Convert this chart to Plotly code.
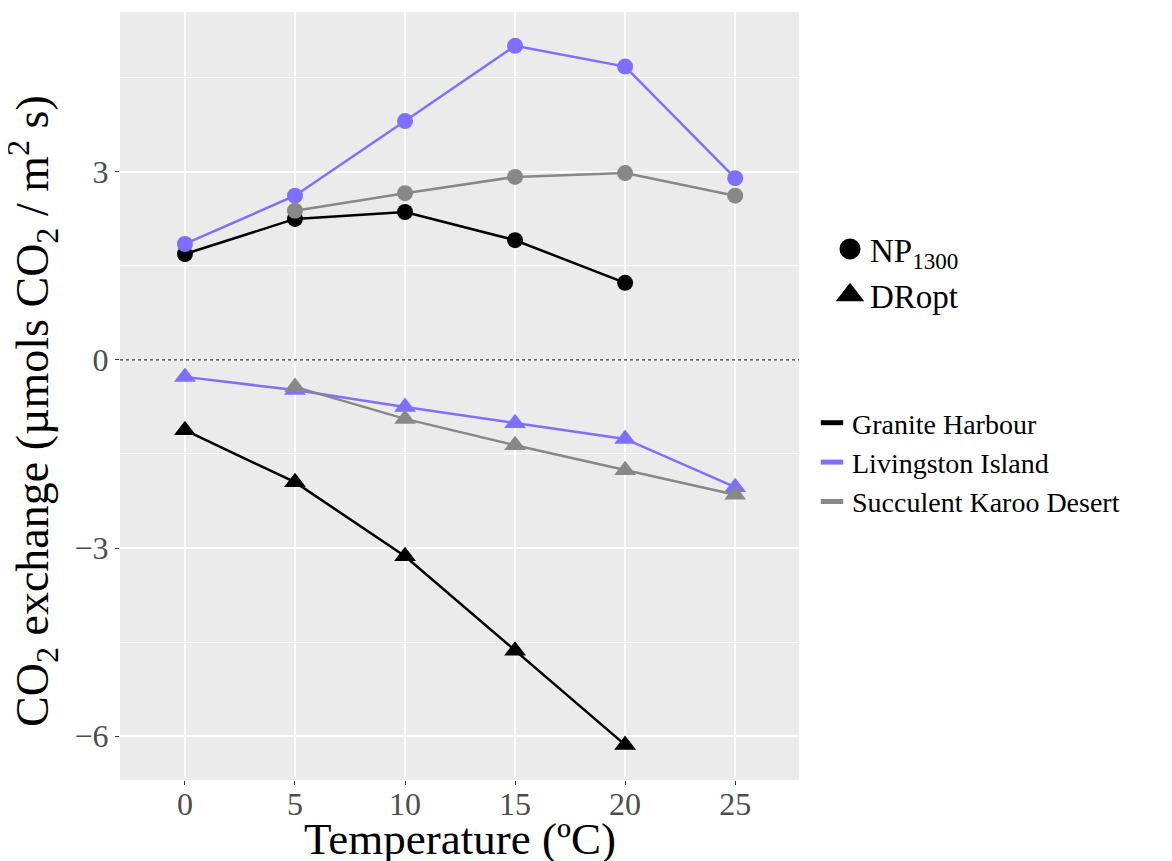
import plotly.graph_objects as go

# Data
sites = ["Granite Harbour", "Livingston Island", "Succulent Karoo Desert"]
colors = {"Granite Harbour": "#000000", "Livingston Island": "#7f6fff", "Succulent Karoo Desert": "#888888"}

temp_granite = [0, 5, 10, 15, 20]
temp_livingston = [0, 5, 10, 15, 20, 25]
temp_succulent = [5, 10, 15, 20, 25]

np_granite = [1.69, 2.25, 2.36, 1.91, 1.23]
np_livingston = [1.85, 2.62, 3.81, 5.01, 4.68, 2.90]
np_succulent = [2.38, 2.66, 2.92, 2.98, 2.62]

dr_granite = [-1.12, -1.95, -3.13, -4.64, -6.14]
dr_livingston = [-0.27, -0.48, -0.75, -1.01, -1.26, -2.03]
dr_succulent = [-0.43, -0.94, -1.36, -1.76, -2.15]

x_ticks = [0, 5, 10, 15, 20, 25]
y_ticks = [-6, -3, 0, 3]
y_minor = [-4.5, -1.5, 1.5, 4.5]

x_title = "Temperature (ºC)"
y_title = "CO<sub>2</sub> exchange (µmols CO<sub>2</sub> / m<sup>2</sup> s)"

series = [
    ("Granite Harbour", temp_granite, np_granite, dr_granite),
    ("Livingston Island", temp_livingston, np_livingston, dr_livingston),
    ("Succulent Karoo Desert", temp_succulent, np_succulent, dr_succulent),
]

FONT = "Liberation Serif, Times New Roman, serif"

fig = go.Figure()

for name, t, npv, drv in series:
    fig.add_trace(go.Scatter(
        x=t, y=npv, mode="lines+markers", showlegend=False,
        line=dict(color=colors[name], width=2.5),
        marker=dict(symbol="circle", size=16, color=colors[name]),
    ))
for name, t, npv, drv in series:
    fig.add_trace(go.Scatter(
        x=t, y=drv, mode="lines+markers", showlegend=False,
        line=dict(color=colors[name], width=2.5),
        marker=dict(symbol="triangle-up", size=19, color=colors[name]),
    ))

# shape legend
fig.add_trace(go.Scatter(x=[None], y=[None], mode="markers", name="NP<sub>1300</sub>",
                         marker=dict(symbol="circle", size=16, color="black",
                                     line=dict(color="black", width=5)), legend="legend"))
fig.add_trace(go.Scatter(x=[None], y=[None], mode="markers", name="DRopt",
                         marker=dict(symbol="triangle-up", size=16, color="black",
                                     line=dict(color="black", width=5)), legend="legend"))
# site legend
for name in sites:
    fig.add_trace(go.Scatter(x=[None], y=[None], mode="markers", name=name,
                             marker=dict(symbol="line-ew", size=16, color=colors[name],
                                         line=dict(color=colors[name], width=5)),
                             legend="legend2"))

# dotted zero line
fig.add_shape(type="line", xref="x domain", yref="y", x0=0, x1=1, y0=0, y1=0,
              line=dict(color="#333333", width=1.2, dash="dot"), layer="above")

# page has an 8px body margin, so figure is 8px smaller and margins shifted
W, H = 1164, 853
L, T = 112, 4
PW, PH = 679, 768
R = W - L - PW
B = H - T - PH

def lx(px):  # page px -> paper x
    return (px - 8 - L) / PW

def ly(py):  # page px -> paper y
    return 1 - (py - 8 - T) / PH

fig.add_annotation(text=x_title, xref="paper", yref="paper", x=0.5, y=ly(839),
                   xanchor="center", yanchor="middle", showarrow=False,
                   font=dict(size=45, family=FONT, color="black"))
fig.add_annotation(text=y_title, xref="paper", yref="paper", x=lx(32), y=ly(411),
                   xanchor="center", yanchor="middle", showarrow=False, textangle=-90,
                   font=dict(size=46, family=FONT, color="black"))

fig.update_layout(
    width=W, height=H,
    margin=dict(l=L, r=R, t=T, b=B, autoexpand=False),
    paper_bgcolor="white",
    plot_bgcolor="#ebebeb",
    font=dict(family=FONT, color="black"),
    legend=dict(x=lx(830), y=ly(221), xanchor="left", yanchor="top",
                font=dict(size=33, family=FONT, color="black"), bgcolor="rgba(0,0,0,0)",
                tracegroupgap=0),
    legend2=dict(x=lx(812), y=ly(398), xanchor="left", yanchor="top",
                 font=dict(size=28, family=FONT, color="black"), bgcolor="rgba(0,0,0,0)",
                 tracegroupgap=0),
    xaxis=dict(
        range=[-2.95, 27.9], tickvals=x_ticks, ticktext=[str(v) for v in x_ticks],
        showgrid=True, gridcolor="white", gridwidth=1.5, zeroline=False,
        ticks="outside", ticklen=4, tickcolor="#333333", tickwidth=1,
        tickfont=dict(size=32, color="#4d4d4d", family=FONT),
        ticklabelstandoff=-8,
        showline=False, automargin=False,
    ),
    yaxis=dict(
        range=[-6.70, 5.55], tickvals=y_ticks,
        showgrid=True, gridcolor="white", gridwidth=1.5, zeroline=False,
        minor=dict(showgrid=True, gridcolor="white", gridwidth=0.7, tickvals=y_minor, ticks=""),
        ticks="outside", ticklen=4, tickcolor="#333333", tickwidth=1,
        tickfont=dict(size=32, color="#4d4d4d", family=FONT),
        showline=False, automargin=False,
    ),
)

fig.write_html("out.html")
